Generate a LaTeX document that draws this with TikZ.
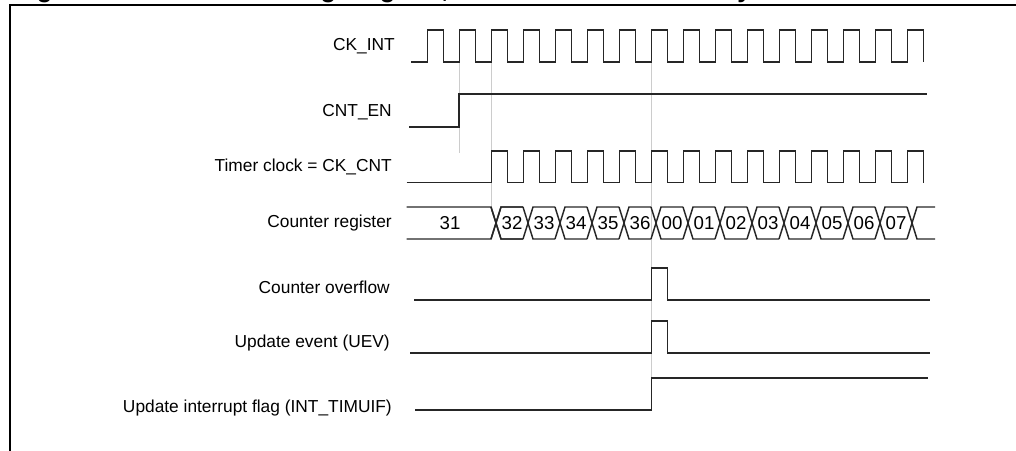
\documentclass[tikz,border=0pt]{standalone}
\usepackage{fontspec}
\setmainfont{Liberation Sans}
\begin{document}
\begin{tikzpicture}[x=0.75pt,y=-0.75pt,
  sig/.style={line width=1.1pt,draw=black!85,line join=miter},
  guide/.style={line width=0.5pt,draw=black!20},
  frame/.style={line width=1.6pt,draw=black},
  lbl/.style={anchor=east,inner sep=0pt,font=\fontsize{13pt}{15pt}\selectfont},
  val/.style={inner sep=0pt,font=\fontsize{14pt}{16pt}\selectfont},
  ttl/.style={anchor=base west,inner sep=0pt,font=\fontsize{19pt}{22pt}\selectfont\bfseries}]
\useasboundingbox (0,0) rectangle (1016,450);
\clip (0,0) rectangle (1016,450);
% title (cut off at the top edge)
\node[ttl] (title) at (14,-3) {Figure 116. Counter timing diagram, internal clock divided by 1};
% frame
\draw[frame] (10,452) -- (10,5) -- (1020,5);
% guides
\draw[guide] (459,62) -- (459,153);
\draw[guide] (491.7,62) -- (491.7,207);
\draw[guide] (651.7,62) -- (651.7,380);
% labels
\node[lbl] (lck) at (395,46) {CK\_INT};
\node[lbl] (len) at (392,112) {CNT\_EN};
\node[lbl] (ltc) at (392,167) {Timer clock = CK\_CNT};
\node[lbl] (lcr) at (392,223) {Counter register};
\node[lbl] (lov) at (390,287) {Counter overflow};
\node[lbl] (lue) at (390,343) {Update event (UEV)};
\node[lbl] (lfl) at (392,408) {Update interrupt flag (INT\_TIMUIF)};
% CK_INT
\draw[sig] (411,62) foreach \k in {0,...,15} { -- (427.7+32*\k,62) -- (427.7+32*\k,30) -- (443.7+32*\k,30) -- (443.7+32*\k,62) };
% CNT_EN
\draw[sig] (409,127) -- (459,127) -- (459,94) -- (926.7,94);
% Timer clock
\draw[sig] (406.7,182.7) foreach \k in {0,...,13} { -- (491.7+32*\k,182.7) -- (491.7+32*\k,151) -- (507.7+32*\k,151) -- (507.7+32*\k,182.7) };
% Counter register
\draw[sig] (406.7,207) -- (491,207) -- (501,239) -- (523,239);
\draw[sig] (406.7,239) -- (491,239) -- (501,207) -- (523,207);
\foreach \k in {1,...,13} {
  \draw[sig] (459+32*\k,207) -- (469+32*\k,239) -- (491+32*\k,239);
  \draw[sig] (459+32*\k,239) -- (469+32*\k,207) -- (491+32*\k,207);
}
\draw[sig] (907,207) -- (917,239) -- (935,239);
\draw[sig] (907,239) -- (917,207) -- (935,207);
\node[val] (v31) at (450,223) {31};
\foreach [count=\i from 0] \v in {32,33,34,35,36,00,01,02,03,04,05,06,07}
  \node[val] (v\i) at (512+32*\i,223) {\v};
% Counter overflow
\draw[sig] (414,300) -- (651.7,300) -- (651.7,268) -- (667.7,268) -- (667.7,300) -- (930,300);
% UEV
\draw[sig] (410,353) -- (651.7,353) -- (651.7,321) -- (667.7,321) -- (667.7,353) -- (930,353);
% Flag
\draw[sig] (415,410) -- (651.7,410) -- (651.7,378) -- (928,378);
\end{tikzpicture}
\end{document}
